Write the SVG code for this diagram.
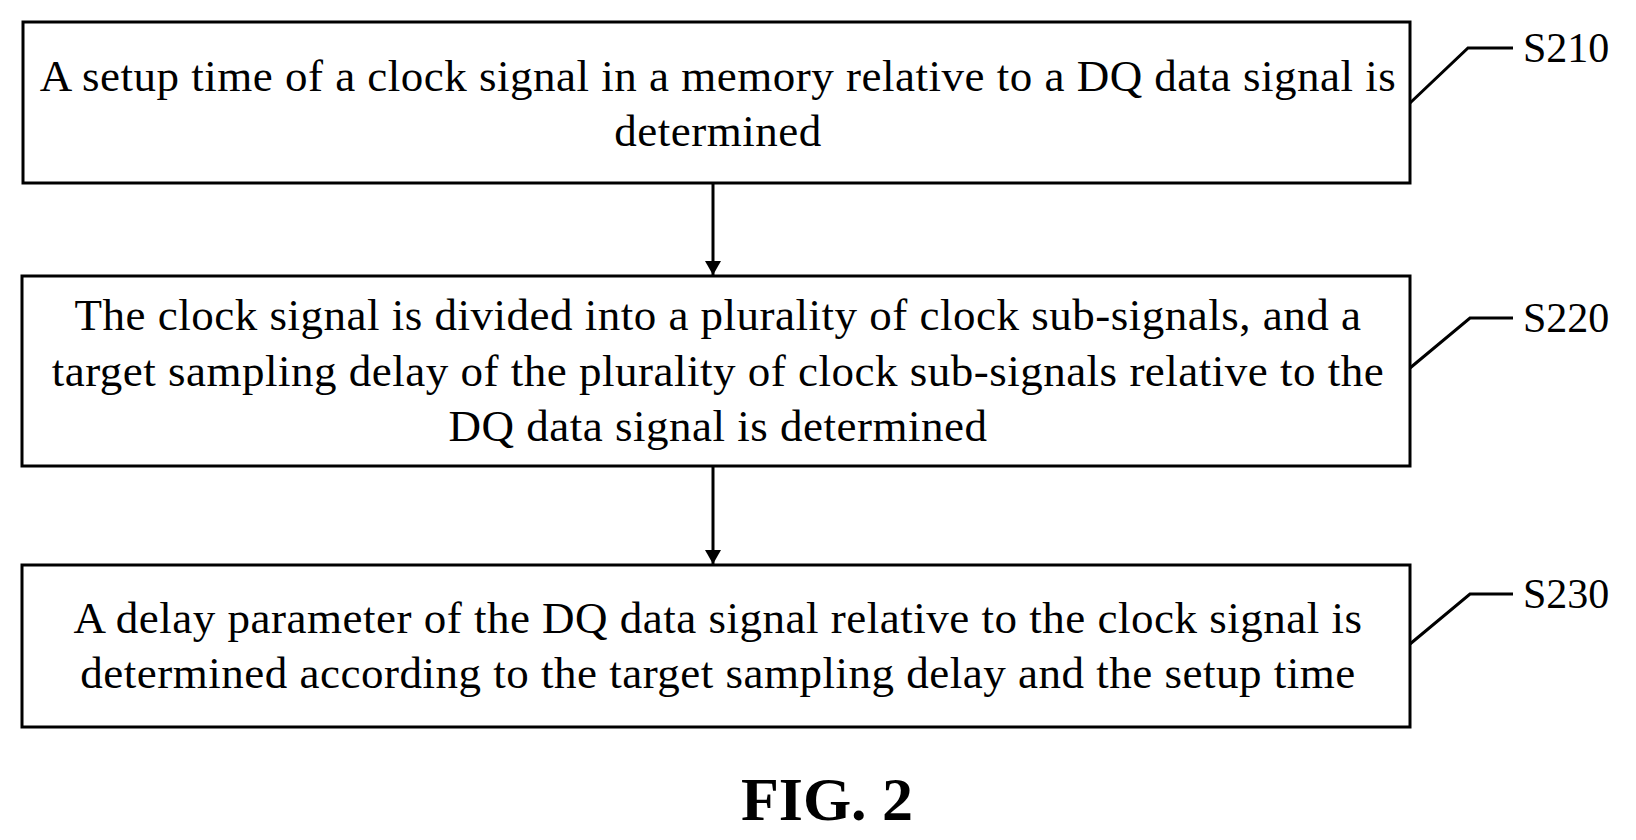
<svg xmlns="http://www.w3.org/2000/svg" width="1636" height="840" viewBox="0 0 1636 840">
<style>
.b{fill:none;stroke:#000;stroke-width:3}
.t{font-family:"Liberation Serif",serif;font-size:45px;letter-spacing:0.5px;text-anchor:middle;fill:#000}
.l{font-family:"Liberation Serif",serif;font-size:42px;fill:#000}
.c{fill:none;stroke:#000;stroke-width:3}
</style>
<defs><marker id="a" markerWidth="14" markerHeight="20" refX="14" refY="8" orient="auto" markerUnits="userSpaceOnUse"><path d="M0,0L14,8L0,16z" fill="#000"/></marker></defs>
<rect width="1636" height="840" fill="#fff"/>
<g id="s210"><rect class="b" x="23" y="22" width="1387" height="161"/>
<text class="t" x="718" y="91">A setup time of a clock signal in a memory relative to a DQ data signal is</text>
<text class="t" x="718" y="146">determined</text></g>
<g id="s220"><rect class="b" x="22" y="276" width="1388" height="190"/>
<text class="t" x="718" y="330">The clock signal is divided into a plurality of clock sub-signals, and a</text>
<text class="t" x="718" y="386">target sampling delay of the plurality of clock sub-signals relative to the</text>
<text class="t" x="718" y="441">DQ data signal is determined</text></g>
<g id="s230"><rect class="b" x="22" y="565" width="1388" height="162"/>
<text class="t" x="718" y="633">A delay parameter of the DQ data signal relative to the clock signal is</text>
<text class="t" x="718" y="688">determined according to the target sampling delay and the setup time</text></g>
<g id="labels">
<text class="l" x="1523" y="62">S210</text>
<text class="l" x="1523" y="332">S220</text>
<text class="l" x="1523" y="608">S230</text>
<text x="827" y="820" font-family="Liberation Serif,serif" font-weight="bold" font-size="62" text-anchor="middle">FIG. 2</text>
</g>
<g id="connectors">
<line class="c" x1="713" y1="183" x2="713" y2="275" marker-end="url(#a)"/>
<line class="c" x1="713" y1="466" x2="713" y2="564" marker-end="url(#a)"/>
<polyline class="c" points="1410,103 1468,48 1513,48"/>
<polyline class="c" points="1410,368 1470,318 1513,318"/>
<polyline class="c" points="1410,644 1470,594 1513,594"/>
</g>
</svg>
